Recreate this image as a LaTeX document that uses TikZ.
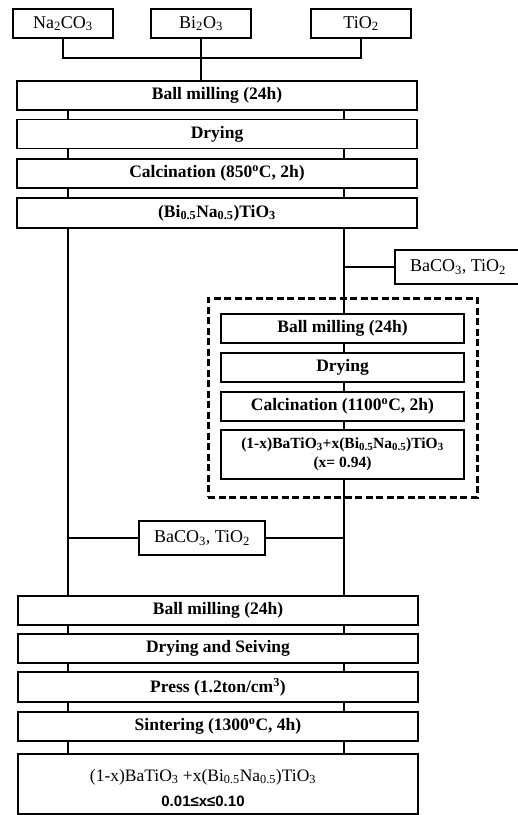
\documentclass[tikz,border=0pt]{standalone}
\usepackage{fontspec}
\setmainfont{Liberation Serif}
\newfontfamily\numfont{Liberation Sans}

\begin{document}
\begin{tikzpicture}[x=1pt,y=-1pt,
    raw/.style={draw,line width=1.5pt,minimum width=100pt,minimum height=29pt,inner sep=0pt,font=\fontsize{18}{20}\selectfont},
    stepbox/.style={draw,fill=white,line width=1.5pt,minimum width=400pt,minimum height=29pt,inner sep=0pt,font=\fontsize{17.5}{20}\selectfont\bfseries},
    substep/.style={stepbox,minimum width=243pt},
    addbox/.style={draw,fill=white,line width=1.5pt,minimum width=126pt,minimum height=34pt,inner sep=0pt,font=\fontsize{18}{20}\selectfont},
    dashbox/.style={draw,line width=3pt,dash pattern=on 7pt off 3.5pt},
    link/.style={line width=1.5pt}]
    \useasboundingbox (0,0) rectangle (518,815);
    \coordinate (L) at (68,0);
    \coordinate (R) at (344,0);
    \coordinate (mix) at (201,58);
    % raw powders
    \node[raw] (na) at (63,23.5) {Na\textsubscript{2}CO\textsubscript{3}};
    \node[raw] (bi) at (201,23.5) {Bi\textsubscript{2}O\textsubscript{3}};
    \node[raw] (ti) at (361,23.5) {TiO\textsubscript{2}};
    % BNT route
    \node[stepbox] (bm1) at (217,95.5) {Ball milling (24h)};
    \node[stepbox] (dry1) at (217,134) {Drying};
    \node[stepbox] (calc1) at (217,173.5) {Calcination (850\textsuperscript{o}C, 2h)};
    \node[stepbox,minimum height=30pt] (bnt) at (217,213) {(Bi\textsubscript{0.5}Na\textsubscript{0.5})TiO\textsubscript{3}};
    % BT-BNT route
    \node[addbox] (bac1) at (458,267) {BaCO\textsubscript{3}, TiO\textsubscript{2}};
    \node[dashbox,minimum width=269pt,minimum height=199pt] (grp) at (342.5,397.5) {};
    \node[substep] (bm2) at (342.5,328.5) {Ball milling (24h)};
    \node[substep] (dry2) at (342.5,367.5) {Drying};
    \node[substep] (calc2) at (342.5,406.5) {Calcination (1100\textsuperscript{o}C, 2h)};
    \node[substep,minimum height=49pt,align=center,font=\fontsize{15.5}{19}\selectfont\bfseries] (fin2) at (342.5,454.5)
        {(1-x)BaTiO\textsubscript{3}+x(Bi\textsubscript{0.5}Na\textsubscript{0.5})TiO\textsubscript{3}\\(x= 0.94)};
    \node[addbox] (bac2) at (202,538) {BaCO\textsubscript{3}, TiO\textsubscript{2}};
    % ceramics
    \node[stepbox] (bm3) at (218,610.5) {Ball milling (24h)};
    \node[stepbox] (dry3) at (218,648.5) {Drying and Seiving};
    \node[stepbox,minimum height=30pt] (press) at (218,687) {Press (1.2ton/cm\textsuperscript{3})};
    \node[stepbox] (sint) at (218,726.5) {Sintering (1300\textsuperscript{o}C, 4h)};
    \node[stepbox,minimum height=60pt] (fin3) at (218,784) {};
    \node[align=center,font=\fontsize{17.5}{20}\selectfont] (fin3txt) at (203,787.5)
        {(1-x)BaTiO\textsubscript{3} +x(Bi\textsubscript{0.5}Na\textsubscript{0.5})TiO\textsubscript{3}\\[5pt]
         {\numfont\bfseries\fontsize{15}{18}\selectfont 0.01≤x≤0.10}};
    % links
    \draw[link] (na.south) |- (mix) -| (ti.south);
    \draw[link] (bi.south) -- (bi.south |- bm1.north);
    \foreach \a/\b in {bm1/dry1,dry1/calc1,calc1/bnt,bm3/dry3,dry3/press,press/sint,sint/fin3} {
        \draw[link] (L |- \a.south) -- (L |- \b.north);
        \draw[link] (R |- \a.south) -- (R |- \b.north);
    }
    \foreach \a/\b in {bnt/bm2,bm2/dry2,dry2/calc2,calc2/fin2,fin2/bm3}
        \draw[link] (R |- \a.south) -- (R |- \b.north);
    \draw[link] (L |- bnt.south) -- (L |- bm3.north);
    \draw[link] (bac1.west) -- (R |- bac1.west);
    \draw[link] (L |- bac2.west) -- (bac2.west);
    \draw[link] (bac2.east) -- (R |- bac2.east);
\end{tikzpicture}
\end{document}
